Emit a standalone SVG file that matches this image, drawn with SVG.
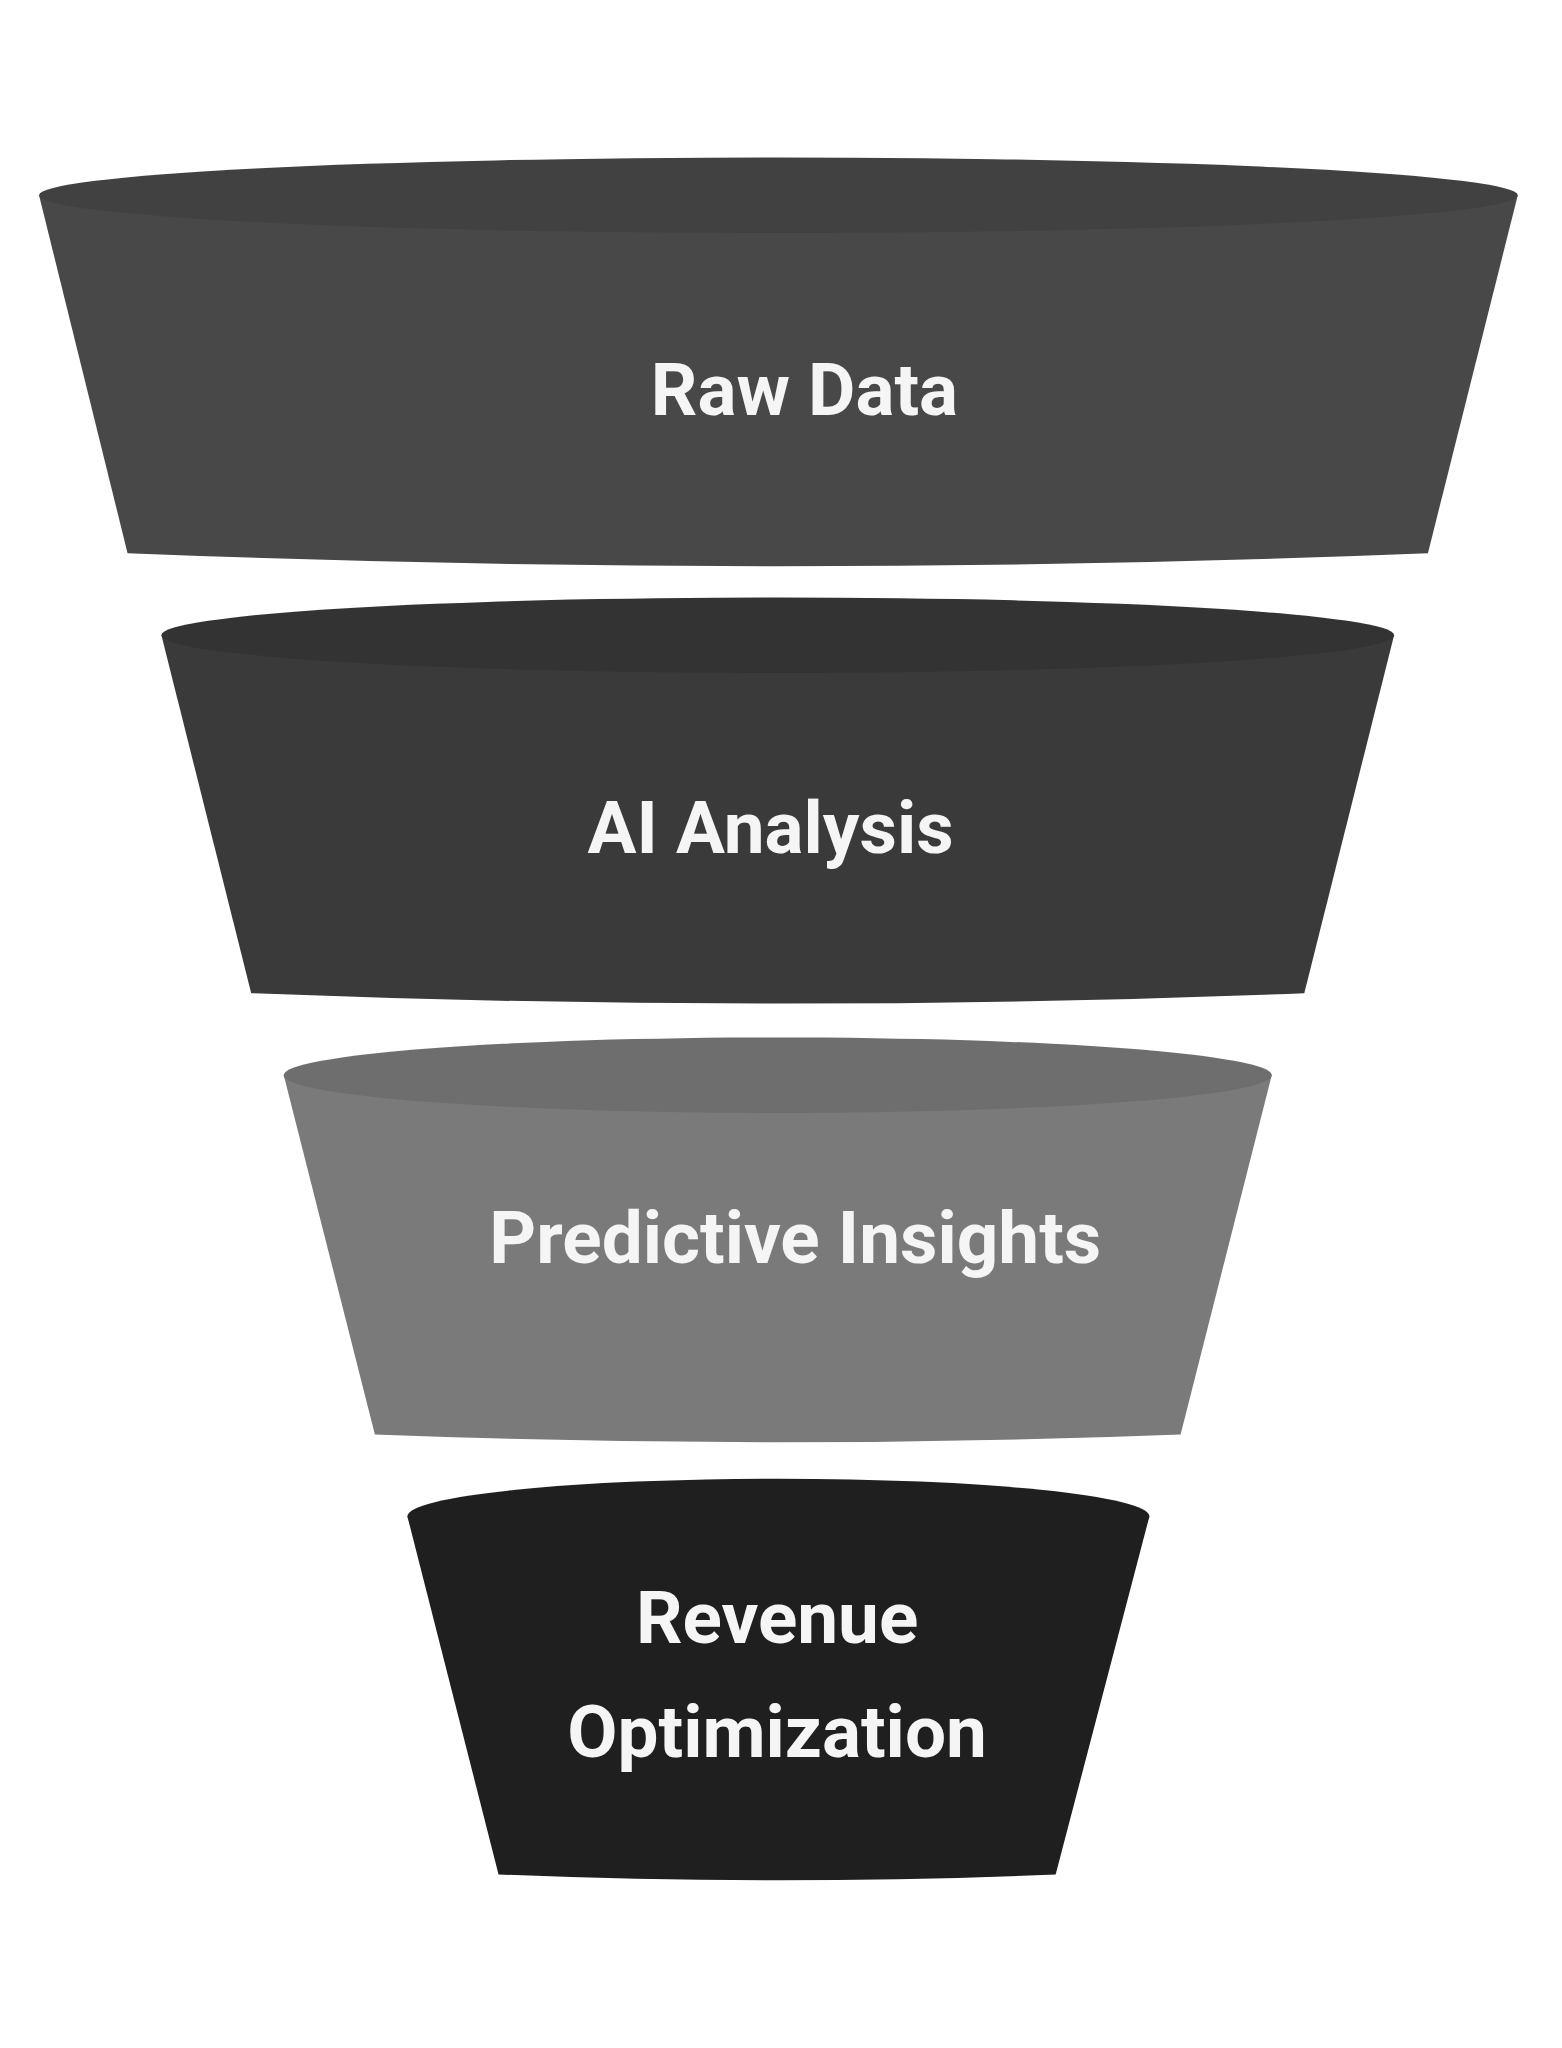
<svg xmlns="http://www.w3.org/2000/svg" width="1562" height="2048" viewBox="0 0 1562 2048">
<style>
text{font-family:Roboto,"Liberation Sans",sans-serif;font-weight:bold;font-size:56px;fill:#f5f5f5;text-anchor:middle}
</style>
<rect width="1562" height="2048" fill="#fff"/>
<g transform="scale(1.30167)">
<g id="raw-data">
<path d="M30,150 L98,425 Q598,445 1097,425 L1166,150 Z" fill="#484848"/>
<ellipse cx="598" cy="150" rx="568" ry="29" fill="#414141"/>
<text x="618" y="319">Raw Data</text>
</g>
<g id="ai-analysis">
<path d="M124,488 L193,763 Q597,779 1002,763 L1071,488 Z" fill="#3a3a3a"/>
<ellipse cx="597.5" cy="488" rx="473.5" ry="29" fill="#333333"/>
<text x="592" y="655">AI Analysis</text>
</g>
<g id="predictive-insights">
<path d="M218,826 L288,1102 Q597,1114 907,1102 L977,826 Z" fill="#7a7a7a"/>
<ellipse cx="597.5" cy="826" rx="379.5" ry="29" fill="#6e6e6e"/>
<text x="611" y="970">Predictive Insights</text>
</g>
<g id="revenue-optimization">
<path d="M313,1165 L383,1440 Q597,1449 811,1440 L883,1165 Z" fill="#1f1f1f"/>
<ellipse cx="598" cy="1165" rx="285" ry="29" fill="#1f1f1f"/>
<text x="597" y="1262">Revenue</text>
<text x="597" y="1350">Optimization</text>
</g>
</g>
<g id="connectors"/>
</svg>
